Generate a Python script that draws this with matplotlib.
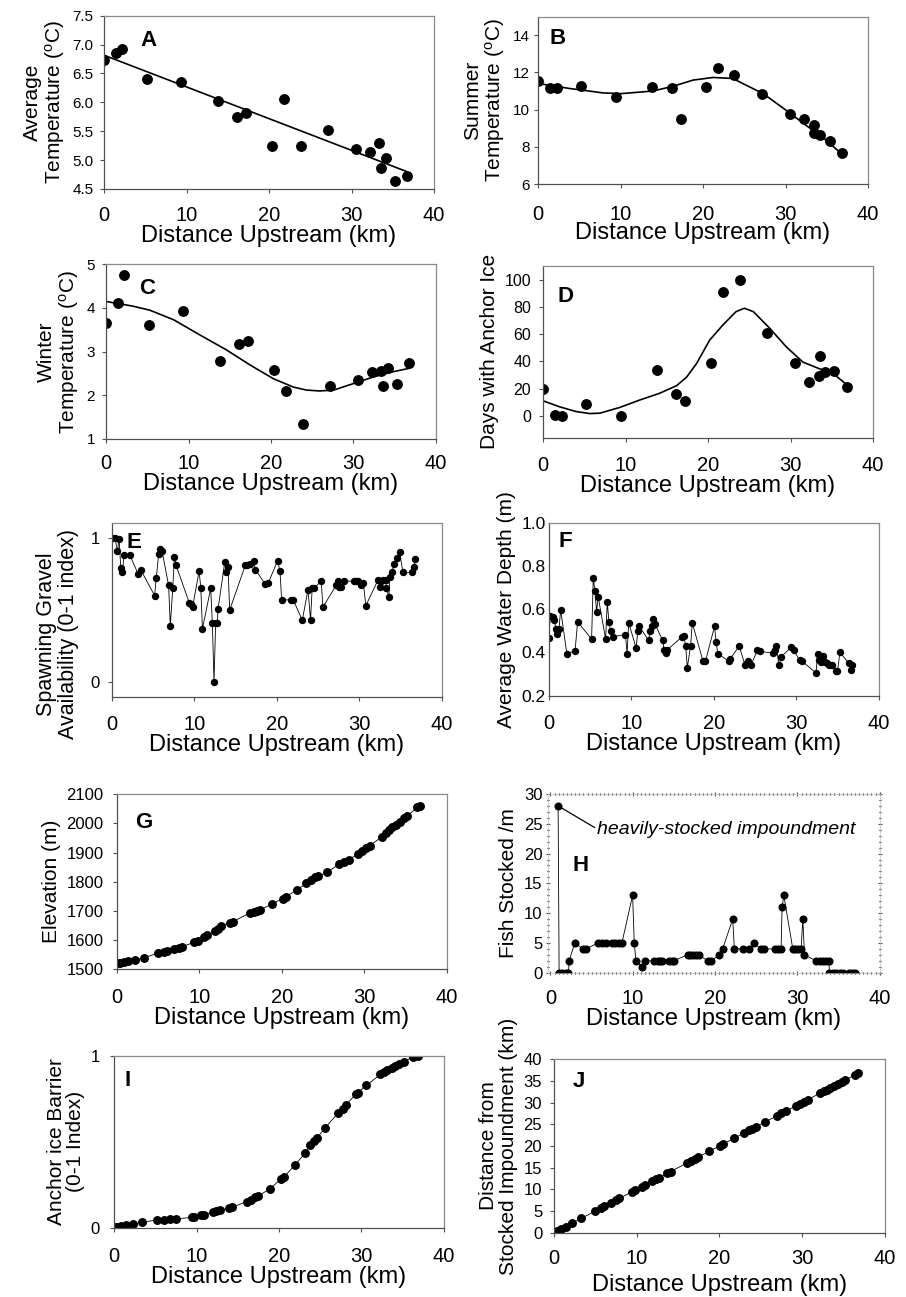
import numpy as np
import matplotlib
matplotlib.use('Agg')
import matplotlib.pyplot as plt
from matplotlib.ticker import MultipleLocator, FormatStrFormatter

plt.rcParams['font.family'] = ['Liberation Sans', 'DejaVu Sans']
plt.rcParams['mathtext.fontset'] = 'custom'
plt.rcParams['mathtext.rm'] = 'Liberation Sans'
plt.rcParams['mathtext.it'] = 'Liberation Sans:italic'

# temperature / anchor ice sites (panels A-D)
site_km = [0, 1.5, 2.2, 5.2, 9.3, 13.8, 16.1, 17.2, 20.4, 21.8, 23.9, 27.2, 30.5, 32.3, 33.3, 33.6, 34.2, 35.3, 36.7]
avg_temp = [6.73, 6.85, 6.93, 6.40, 6.36, 6.02, 5.74, 5.82, 5.25, 6.06, 5.25, 5.53, 5.20, 5.14, 5.30, 4.87, 5.04, 4.64, 4.72]

summer_km = [0, 1.5, 2.3, 5.2, 9.4, 13.8, 16.2, 17.3, 20.4, 21.8, 23.8, 27.2, 30.6, 32.3, 33.4, 33.5, 34.2, 35.4, 36.8]
summer_temp = [11.53, 11.14, 11.14, 11.26, 10.68, 11.22, 11.19, 9.51, 11.22, 12.25, 11.86, 10.86, 9.78, 9.51, 9.19, 8.77, 8.65, 8.29, 7.69]
summer_fit_km = [0, 3.8, 7.9, 10, 13.9, 16.4, 18.8, 21.2, 23.6, 24.8, 27.3, 30.1, 32.5, 34.5, 36.8]
summer_fit = [11.41, 11.14, 10.90, 10.86, 11.0, 11.26, 11.59, 11.73, 11.68, 11.41, 10.86, 9.96, 9.15, 8.52, 7.62]

winter_temp = [3.65, 4.12, 4.75, 3.60, 3.92, 2.78, 3.18, 3.25, 2.59, 2.10, 1.35, 2.21, 2.36, 2.54, 2.56, 2.22, 2.63, 2.25, 2.75]
winter_fit_km = [0, 3.3, 5.3, 8.2, 11.4, 14.6, 17.5, 20.3, 22.7, 24.3, 25.9, 27.6, 30.0, 32.4, 34.8, 36.8]
winter_fit = [4.15, 4.04, 3.95, 3.73, 3.38, 3.04, 2.69, 2.38, 2.19, 2.12, 2.10, 2.12, 2.27, 2.42, 2.54, 2.62]

ice_km = [0, 1.5, 2.3, 5.2, 9.4, 13.8, 16.1, 17.2, 20.4, 21.8, 23.9, 27.2, 30.6, 32.3, 33.4, 33.6, 34.2, 35.3, 36.8]
ice_days = [20, 1, 0, 9, 0, 34, 16, 11, 39, 91, 100, 61, 39, 25, 29, 44, 32, 33, 21]
ice_fit_km = [0, 2.0, 4.0, 5.7, 6.9, 9.3, 11.7, 14.1, 16.2, 17.4, 18.6, 20.2, 21.8, 23.4, 24.4, 25.5, 27.5, 29.5, 31.5, 33.5, 35.2, 36.8]
ice_fit = [11.1, 6.7, 3.2, 1.7, 2.0, 6.2, 11.6, 16.5, 22.2, 28.4, 38.3, 55.6, 66.7, 76.5, 79.0, 76.5, 64.2, 50.6, 39.5, 34.6, 30.9, 23.0]

# reach surveys (panel E, F)
gravel_km = [0, 0.4, 0.7, 0.9, 1.1, 1.3, 1.5, 2.2, 3.2, 3.5, 5.2, 5.4, 5.7, 5.9, 6.1, 6.9, 7.1, 7.4, 7.6, 7.8,
             9.4, 9.6, 9.8, 10.6, 10.8, 11.0, 12.0, 12.2, 12.4, 12.6, 12.8, 12.9, 13.7, 13.9, 14.1, 14.3,
             16.2, 16.4, 16.8, 17.2, 17.4, 18.6, 19.0, 20.1, 20.4, 20.6, 21.7, 22.0, 23.1, 23.8, 24.1, 24.3,
             24.5, 25.4, 25.6, 27.2, 27.4, 27.6, 27.8, 28.1, 29.4, 29.6, 29.8, 30.2, 30.5, 30.8, 32.3, 32.5,
             32.7, 32.9, 33.2, 33.3, 33.6, 33.7, 34.0, 34.2, 34.6, 34.9, 35.3, 36.4, 36.6, 36.8]
gravel = [1.0, 0.995, 0.91, 0.99, 0.79, 0.76, 0.88, 0.88, 0.75, 0.78, 0.60, 0.72, 0.89, 0.92, 0.91, 0.67, 0.39,
          0.65, 0.87, 0.81, 0.55, 0.54, 0.52, 0.77, 0.65, 0.37, 0.65, 0.41, 0.0, 0.41, 0.41, 0.51, 0.83, 0.76,
          0.80, 0.50, 0.81, 0.81, 0.82, 0.84, 0.78, 0.68, 0.69, 0.84, 0.77, 0.57, 0.57, 0.57, 0.43, 0.64, 0.43,
          0.65, 0.65, 0.70, 0.52, 0.67, 0.70, 0.66, 0.66, 0.70, 0.70, 0.70, 0.70, 0.67, 0.69, 0.53, 0.71, 0.66,
          0.70, 0.71, 0.71, 0.65, 0.59, 0.73, 0.76, 0.82, 0.86, 0.90, 0.76, 0.76, 0.80, 0.85]

depth_km = [0, 0.2, 0.5, 0.7, 0.85, 1.05, 1.25, 1.45, 2.2, 3.2, 3.5, 5.2, 5.4, 5.6, 5.8, 6.0, 6.9, 7.1, 7.3, 7.5,
            7.8, 9.3, 9.5, 9.7, 10.6, 10.8, 11.0, 12.1, 12.3, 12.5, 12.7, 12.9, 13.8, 14.0, 14.2, 14.3, 16.2,
            16.4, 16.6, 16.8, 17.2, 17.4, 18.7, 19.0, 20.1, 20.3, 20.5, 21.8, 22.0, 23.1, 23.8, 24.0, 24.2,
            24.5, 25.3, 25.6, 27.2, 27.4, 27.6, 27.9, 28.2, 29.4, 29.7, 30.4, 30.7, 32.4, 32.6, 32.8, 33.0,
            33.3, 33.5, 33.7, 34.0, 34.3, 34.8, 35.0, 35.3, 36.4, 36.6, 36.8]
depth = [0.468, 0.567, 0.563, 0.55, 0.51, 0.485, 0.51, 0.597, 0.394, 0.408, 0.542, 0.462, 0.743, 0.685, 0.588,
         0.657, 0.462, 0.634, 0.540, 0.50, 0.473, 0.483, 0.394, 0.537, 0.42, 0.50, 0.52, 0.456, 0.50, 0.52,
         0.556, 0.53, 0.456, 0.41, 0.397, 0.41, 0.473, 0.475, 0.43, 0.33, 0.43, 0.537, 0.36, 0.36, 0.52,
         0.447, 0.395, 0.36, 0.37, 0.43, 0.34, 0.35, 0.36, 0.34, 0.41, 0.405, 0.397, 0.41, 0.43, 0.34, 0.38,
         0.425, 0.41, 0.365, 0.36, 0.305, 0.394, 0.365, 0.358, 0.383, 0.355, 0.35, 0.34, 0.34, 0.313, 0.313,
         0.40, 0.35, 0.32, 0.34]

# elevation, anchor ice barrier, distance from impoundment (G, I, J)
elev_km = [0, 0.4, 0.9, 1.4, 2.2, 3.3, 5.0, 5.7, 6.1, 6.9, 7.5, 7.9, 9.4, 9.8, 10.6, 11.0, 11.9, 12.3, 12.7,
           13.7, 14.1, 16.1, 16.6, 17.0, 17.4, 18.8, 20.1, 20.5, 21.8, 23.0, 23.6, 24.0, 24.4, 25.5, 27.0,
           27.5, 28.1, 29.3, 29.7, 30.2, 30.7, 32.2, 32.6, 33.0, 33.4, 33.9, 34.3, 34.8, 35.2, 36.4, 36.8]
elevation = [1519, 1521, 1524, 1527, 1532, 1538, 1555, 1559, 1561, 1567, 1573, 1576, 1592, 1596, 1611, 1617,
             1630, 1639, 1648, 1659, 1663, 1692, 1696, 1700, 1703, 1723, 1742, 1748, 1771, 1794, 1807, 1815,
             1818, 1832, 1861, 1867, 1875, 1896, 1905, 1916, 1924, 1955, 1967, 1976, 1986, 1996, 2005, 2017,
             2025, 2055, 2061]

barrier_km = [0, 0.4, 0.9, 1.5, 2.3, 3.4, 5.2, 6.0, 6.8, 7.5, 9.4, 9.7, 10.6, 10.9, 12.0, 12.4, 12.8, 13.9,
              14.3, 16.1, 16.6, 17.1, 17.5, 18.9, 20.3, 20.6, 21.9, 23.2, 23.8, 24.2, 24.6, 25.6, 27.2, 27.7,
              28.1, 29.3, 29.6, 30.6, 32.3, 32.7, 33.1, 33.7, 34.1, 34.6, 35.1, 36.3, 36.8]
barrier = [0.002, 0.006, 0.012, 0.016, 0.021, 0.031, 0.045, 0.047, 0.049, 0.051, 0.060, 0.062, 0.072, 0.074,
           0.093, 0.097, 0.103, 0.113, 0.119, 0.152, 0.162, 0.177, 0.185, 0.226, 0.285, 0.294, 0.363, 0.435,
           0.478, 0.503, 0.522, 0.581, 0.669, 0.692, 0.713, 0.776, 0.786, 0.828, 0.891, 0.904, 0.916, 0.930,
           0.942, 0.953, 0.965, 0.994, 1.0]

impound_km = elev_km
impound_dist = [0, 0.4, 0.9, 1.4, 2.2, 3.3, 5.0, 5.7, 6.1, 6.9, 7.5, 7.9, 9.4, 9.8, 10.6, 11.0, 11.9, 12.3,
                12.7, 13.7, 14.1, 16.1, 16.6, 17.0, 17.4, 18.8, 20.1, 20.5, 21.8, 23.0, 23.6, 24.0, 24.4, 25.5,
                27.0, 27.5, 28.1, 29.3, 29.7, 30.2, 30.7, 32.2, 32.6, 33.0, 33.4, 33.9, 34.3, 34.8, 35.2, 36.4,
                36.8]

# fish stocked (H)
stock_km = [0.93, 1.05, 1.46, 1.86, 2.19, 2.27, 2.96, 3.97, 4.30, 5.80, 6.20, 6.73, 7.46, 7.87, 8.27, 8.68,
            9.98, 10.18, 10.38, 11.11, 11.52, 12.61, 13.02, 13.30, 13.54, 14.44, 14.72, 14.96, 16.67, 16.99,
            17.27, 17.68, 18.0, 19.10, 19.51, 20.52, 20.92, 22.14, 22.34, 23.36, 24.17, 24.70, 25.59, 26.0,
            27.33, 27.70, 28.02, 28.14, 28.35, 29.44, 29.77, 30.05, 30.45, 30.66, 30.86, 32.28, 32.69, 33.09,
            33.50, 33.82, 33.90, 34.31, 34.71, 35.12, 35.52, 36.33, 36.66, 36.94]
stocked = [28, 0, 0, 0, 0, 2, 5, 4, 4, 5, 5, 5, 5, 5, 5, 5, 13, 5, 2, 1, 2, 2, 2, 2, 2, 2, 2, 2, 3, 3, 3, 3, 3,
           2, 2, 3, 4, 9, 4, 4, 4, 5, 4, 4, 4, 4, 4, 11, 13, 4, 4, 4, 4, 9, 3, 2, 2, 2, 2, 2, 0, 0, 0, 0, 0,
           0, 0, 0]

W, H = 906, 1297
fig = plt.figure(figsize=(W / 100, H / 100), dpi=100)


def panel(l, t, r, b):
    return fig.add_axes([l / W, 1 - b / H, (r - l) / W, (b - t) / H])


def style(ax, letter, lx, ly, ylabel, ysize=11, xpad=9, ypad=4, lpad=0, ylen=3):
    ax.set_xlim(0, 40)
    ax.xaxis.set_major_locator(MultipleLocator(10))
    for s in ['top', 'right']:
        ax.spines[s].set_color('#8a8a8a')
    for s in ['left', 'bottom']:
        ax.spines[s].set_color('#505050')
    for s in ax.spines.values():
        s.set_linewidth(0.9)
    ax.tick_params(axis='x', labelsize=14.5, length=3, pad=xpad, color='#505050')
    ax.tick_params(axis='y', labelsize=ysize, length=ylen, pad=ypad, color='#505050')
    ax.set_xlabel('Distance Upstream (km)', fontsize=17, labelpad=lpad)
    ax.set_ylabel(ylabel, fontsize=15, linespacing=1.05)
    ax.text(lx, ly, letter, transform=ax.transAxes, fontsize=16, fontweight='bold',
            ha='left', va='center')


degC = r'($^{\rm o}$C)'

# A
ax = panel(104, 15.7, 434, 189)
ax.plot(site_km, avg_temp, 'o', color='black', ms=6.8)
slope, icpt = np.polyfit(site_km, avg_temp, 1)
fit_x = np.array([site_km[0], site_km[-1]])
ax.plot(fit_x, slope * fit_x + icpt, color='black', lw=1.2)
ax.set_ylim(4.5, 7.5)
ax.yaxis.set_major_locator(MultipleLocator(0.5))
ax.yaxis.set_major_formatter(FormatStrFormatter('%.1f'))
style(ax, 'A', 0.11, 0.855, 'Average\nTemperature ' + degC, ysize=11, xpad=9, ypad=4.5)

# B
ax = panel(538, 16.7, 868, 184)
ax.plot(summer_km, summer_temp, 'o', color='black', ms=6.8)
ax.plot(summer_fit_km, summer_fit, color='black', lw=1.2)
ax.set_ylim(6, 15)
ax.set_yticks([6, 8, 10, 12, 14])
style(ax, 'B', 0.035, 0.87, 'Summer\nTemperature ' + degC, ysize=11, xpad=12, ypad=3, lpad=-1)

# C
ax = panel(106, 264.3, 436, 439)
ax.plot(site_km, winter_temp, 'o', color='black', ms=6.8)
ax.plot(winter_fit_km, winter_fit, color='black', lw=1.2)
ax.set_ylim(1, 5)
ax.set_yticks([1, 2, 3, 4, 5])
style(ax, 'C', 0.10, 0.86, 'Winter\nTemperature ' + degC, ysize=11, xpad=8, ypad=5)

# D
ax = panel(543, 266, 873, 437.7)
ax.plot(ice_km, ice_days, 'o', color='black', ms=6.8)
ax.plot(ice_fit_km, ice_fit, color='black', lw=1.2)
ax.set_ylim(-16, 110)
ax.set_yticks([0, 20, 40, 60, 80, 100])
style(ax, 'D', 0.045, 0.825, 'Days with Anchor Ice', ysize=11.5, xpad=10, ypad=5.5)

# E
ax = panel(111.7, 523.3, 441.7, 696.7)
ax.plot(gravel_km, gravel, '-o', color='black', ms=4.3, lw=0.6)
ax.set_ylim(-0.1, 1.1)
ax.set_yticks([0, 1])
style(ax, 'E', 0.045, 0.89, 'Spawning Gravel\nAvailability (0-1 index)', ysize=12, xpad=10, ypad=5.5)
ax.yaxis.label.set_fontsize(15.5)
ax.yaxis.set_label_coords(-0.1, 0.36)

# F
ax = panel(548.7, 522.7, 878.7, 695.7)
ax.plot(depth_km, depth, '-o', color='black', ms=4.3, lw=0.6)
ax.set_ylim(0.2, 1.0)
ax.yaxis.set_major_locator(MultipleLocator(0.2))
ax.yaxis.set_major_formatter(FormatStrFormatter('%.1f'))
style(ax, 'F', 0.031, 0.89, 'Average Water Depth (m)', ysize=12.5, xpad=10, ypad=1.5, ylen=0.5)

# G
ax = panel(116.7, 794.3, 446.7, 969)
ax.plot(elev_km, elevation, '-o', color='black', ms=5.4, lw=0.6)
ax.set_ylim(1500, 2100)
ax.yaxis.set_major_locator(MultipleLocator(100))
style(ax, 'G', 0.055, 0.84, 'Elevation (m)', ysize=12, xpad=11, ypad=6.5)

# H
ax = panel(548, 794, 879.7, 972.7)
ax.plot(stock_km, stocked, '-o', color='black', ms=4.8, lw=0.6)
ax.set_ylim(0, 30)
ax.yaxis.set_major_locator(MultipleLocator(5))
style(ax, 'H', 0.075, 0.60, 'Fish Stocked /m', ysize=12, xpad=10, ypad=2.5)
ax.set_xlim(-0.3, 40)
ax.xaxis.set_minor_locator(MultipleLocator(0.5))
ax.yaxis.set_minor_locator(MultipleLocator(1))
ax.tick_params(which='both', top=True, right=True, direction='inout')
ax.tick_params(which='minor', length=2, width=0.9, color='#202020')
for s in ax.spines.values():
    s.set_color('#c0c0c0')
    s.set_linewidth(0.5)
ax.annotate('heavily-stocked impoundment', xy=(stock_km[0], stocked[0]), xytext=(5.7, 24.1),
            fontsize=14, fontstyle='italic', ha='left', va='center',
            arrowprops=dict(arrowstyle='-', color='black', lw=0.9, shrinkA=0, shrinkB=0,
                            relpos=(0, 0.5)))

# I
ax = panel(114, 1055.7, 444, 1227.7)
ax.plot(barrier_km, barrier, '-o', color='black', ms=5.4, lw=0.6)
ax.set_ylim(0, 1)
ax.set_yticks([0, 1])
style(ax, 'I', 0.033, 0.855, 'Anchor ice Barrier\n(0-1 Index)', ysize=12, xpad=11, ypad=7)

# J
ax = panel(554, 1059.3, 884.7, 1232.7)
ax.plot(impound_km, impound_dist, '-o', color='black', ms=5.4, lw=0.6)
ax.set_ylim(0, 40)
ax.yaxis.set_major_locator(MultipleLocator(5))
style(ax, 'J', 0.057, 0.87, 'Distance from\nStocked Impoundment (km)', ysize=12, xpad=9, ypad=5.5, lpad=4)

fig.savefig('out.png', dpi=100)
